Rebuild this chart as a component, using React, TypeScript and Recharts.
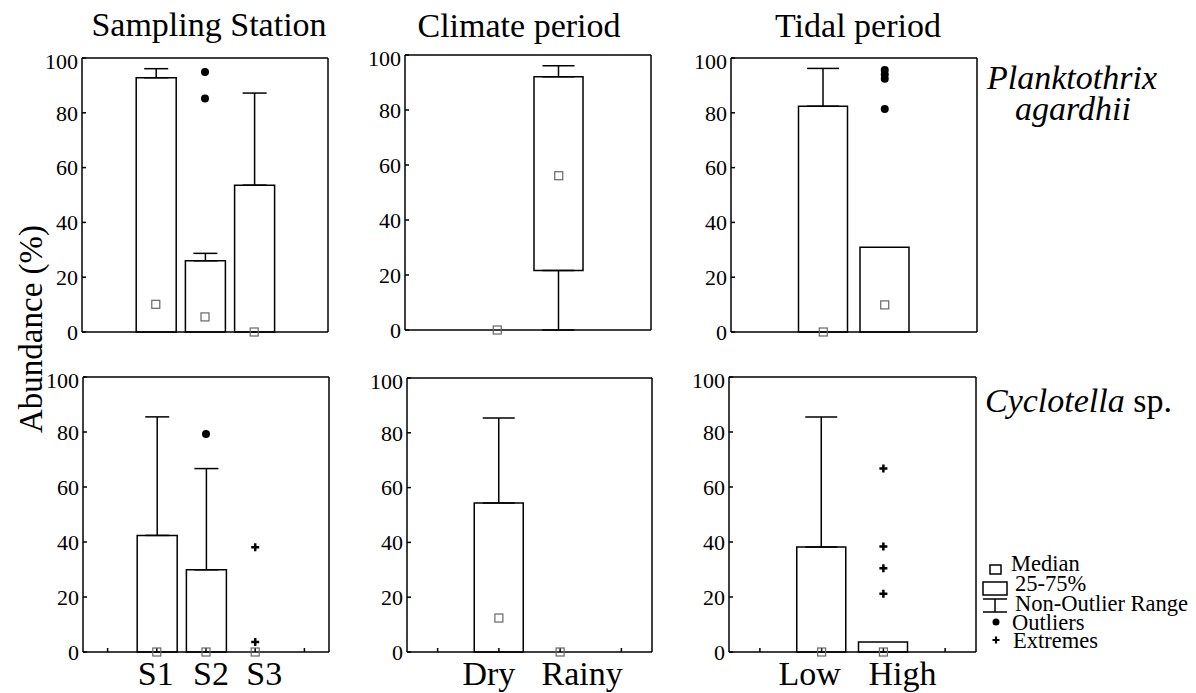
import React from 'react'
import { ComposedChart, Bar, Scatter, XAxis, YAxis, ErrorBar } from 'recharts'

const FONT = "'Liberation Serif', 'Times New Roman', serif"

const stationCats = ['S1', 'S2', 'S3']
const climateCats = ['Dry', 'Rainy']
const tidalCats = ['Low', 'High']
const yTicks = [0, 20, 40, 60, 80, 100]

// Planktothrix agardhii
const plankStationQ1 = [0, 0, 0]
const plankStationQ3 = [92.8, 26.0, 53.6]
const plankStationLow = [0, 0, 0]
const plankStationHigh = [96.1, 28.7, 87.2]
const plankStationMedian = [10.1, 5.5, 0]
const plankStationOutliers = [[], [94.9, 85.2], []]
const plankStationExtremes = [[], [], []]

const plankClimateQ1 = [0, 21.6]
const plankClimateQ3 = [0, 92.1]
const plankClimateLow = [0, 0]
const plankClimateHigh = [0, 96.1]
const plankClimateMedian = [0, 56.1]
const plankClimateOutliers = [[], []]
const plankClimateExtremes = [[], []]

const plankTidalQ1 = [0, 0]
const plankTidalQ3 = [82.4, 30.9]
const plankTidalLow = [0, 0]
const plankTidalHigh = [96.2, 30.9]
const plankTidalMedian = [0, 9.9]
const plankTidalOutliers = [[], [95.6, 94.0, 92.4, 81.4]]
const plankTidalExtremes = [[], []]

// Cyclotella sp.
const cycloStationQ1 = [0, 0, 0]
const cycloStationQ3 = [42.4, 29.9, 0]
const cycloStationLow = [0, 0, 0]
const cycloStationHigh = [85.5, 66.7, 0]
const cycloStationMedian = [0, 0, 0]
const cycloStationOutliers = [[], [79.3], []]
const cycloStationExtremes = [[], [], [38.1, 3.6]]

const cycloClimateQ1 = [0, 0]
const cycloClimateQ3 = [54.4, 0]
const cycloClimateLow = [0, 0]
const cycloClimateHigh = [85.4, 0]
const cycloClimateMedian = [12.4, 0]
const cycloClimateOutliers = [[], []]
const cycloClimateExtremes = [[], []]

const cycloTidalQ1 = [0, 0]
const cycloTidalQ3 = [38.2, 3.6]
const cycloTidalLow = [0, 0]
const cycloTidalHigh = [85.5, 3.6]
const cycloTidalMedian = [0, 0]
const cycloTidalOutliers = [[], []]
const cycloTidalExtremes = [[], [66.7, 38.4, 30.5, 21.2]]

// the category labels in the original sit a bit wider apart than the boxes
const labelShift: Record<string, number> = { S1: -1, S2: 5, S3: 9, Dry: -10, Rainy: 22, Low: -12, High: 19 }

interface BoxStats {
  cats: string[]
  q1: number[]
  q3: number[]
  low: number[]
  high: number[]
  median: number[]
  outliers: number[][]
  extremes: number[][]
}

// one empty slot on each side, like the original plot
const buildRows = (s: BoxStats) => {
  const rows: Record<string, any>[] = [{ cat: '' }]
  s.cats.forEach((cat, i) => {
    const row: Record<string, any> = {
      cat,
      base: s.q1[i],
      box: s.q3[i] - s.q1[i],
      median: s.median[i],
      lowErr: s.q1[i] > s.low[i] ? [s.q1[i] - s.low[i], 0] : undefined,
      highErr: s.high[i] > s.q3[i] ? [0, s.high[i] - s.q3[i]] : undefined,
    }
    s.outliers[i].forEach((v, k) => (row[`o${k}`] = v))
    s.extremes[i].forEach((v, k) => (row[`e${k}`] = v))
    rows.push(row)
  })
  rows.push({ cat: ' ' })
  return rows
}

const ok = (p: any) => Number.isFinite(p.cx) && Number.isFinite(p.cy)

const MedianShape = (p: any) =>
  ok(p) ? (
    <rect x={p.cx - 4} y={p.cy - 4} width={8} height={8} fill="none" stroke="#666" strokeWidth={1.2} />
  ) : (
    <g />
  )

const OutlierShape = (p: any) => (ok(p) ? <circle cx={p.cx} cy={p.cy} r={4} fill="#000" /> : <g />)

const ExtremeShape = (p: any) =>
  ok(p) ? (
    <path
      d={`M${p.cx - 4},${p.cy}H${p.cx + 4}M${p.cx},${p.cy - 4}V${p.cy + 4}`}
      stroke="#000"
      strokeWidth={2.5}
    />
  ) : (
    <g />
  )

const CatTick = (props: any) => {
  const { x, y, payload } = props
  return (
    <text
      x={x + (labelShift[payload.value] ?? 0)}
      y={y}
      dy="0.71em"
      textAnchor="middle"
      fontSize={34}
      fontFamily={FONT}
      fill="#000"
    >
      {payload.value}
    </text>
  )
}

interface PanelProps {
  stats: BoxStats
  left: number
  top: number
  width: number
  height: number
  barSize: number
  capWidth: number
  showLabels: boolean
}

const BoxPanel = ({ stats, left, top, width, height, barSize, capWidth, showLabels }: PanelProps) => {
  const rows = buildRows(stats)
  const nOut = Math.max(0, ...stats.outliers.map((o) => o.length))
  const nExt = Math.max(0, ...stats.extremes.map((e) => e.length))
  return (
    <div style={{ position: 'absolute', left: left - 70, top: top - 10 }}>
      <ComposedChart
        width={width + 80}
        height={height + 60}
        data={rows}
        margin={{ top: 9, right: 9, bottom: 0, left: 0 }}
        barSize={barSize}
      >
        <XAxis
          dataKey="cat"
          interval={0}
          height={50}
          stroke="#000"
          strokeWidth={1.5}
          tickSize={-4}
          tickMargin={13}
          tick={showLabels ? <CatTick /> : false}
        />
        {/* top and right axes only close the frame and carry the inner ticks */}
        <XAxis
          xAxisId="top"
          orientation="top"
          dataKey="cat"
          interval={0}
          height={1}
          stroke="#000"
          strokeWidth={1.5}
          tickSize={-4}
          tick={false}
        />
        <YAxis
          type="number"
          domain={[0, 100]}
          ticks={yTicks}
          width={70}
          stroke="#000"
          strokeWidth={1.5}
          tickSize={-4}
          tickMargin={8}
          tick={{ fontSize: 22, fontFamily: FONT, fill: '#000' }}
        />
        <YAxis
          yAxisId="right"
          orientation="right"
          type="number"
          domain={[0, 100]}
          ticks={yTicks}
          width={1}
          stroke="#000"
          strokeWidth={1.5}
          tickSize={-4}
          tick={false}
        />
        <Bar dataKey="base" stackId="a" fill="none" stroke="none" isAnimationActive={false}>
          <ErrorBar dataKey="lowErr" width={capWidth} stroke="#000" strokeWidth={1.5} direction="y" />
        </Bar>
        <Bar dataKey="box" stackId="a" fill="#fff" stroke="#000" strokeWidth={1.5} isAnimationActive={false}>
          <ErrorBar dataKey="highErr" width={capWidth} stroke="#000" strokeWidth={1.5} direction="y" />
        </Bar>
        <Scatter dataKey="median" shape={MedianShape} isAnimationActive={false} />
        {Array.from({ length: nOut }, (_, k) => (
          <Scatter key={`o${k}`} dataKey={`o${k}`} shape={OutlierShape} isAnimationActive={false} />
        ))}
        {Array.from({ length: nExt }, (_, k) => (
          <Scatter key={`e${k}`} dataKey={`e${k}`} shape={ExtremeShape} isAnimationActive={false} />
        ))}
      </ComposedChart>
    </div>
  )
}

const plankStation: BoxStats = {
  cats: stationCats, q1: plankStationQ1, q3: plankStationQ3, low: plankStationLow, high: plankStationHigh,
  median: plankStationMedian, outliers: plankStationOutliers, extremes: plankStationExtremes,
}
const plankClimate: BoxStats = {
  cats: climateCats, q1: plankClimateQ1, q3: plankClimateQ3, low: plankClimateLow, high: plankClimateHigh,
  median: plankClimateMedian, outliers: plankClimateOutliers, extremes: plankClimateExtremes,
}
const plankTidal: BoxStats = {
  cats: tidalCats, q1: plankTidalQ1, q3: plankTidalQ3, low: plankTidalLow, high: plankTidalHigh,
  median: plankTidalMedian, outliers: plankTidalOutliers, extremes: plankTidalExtremes,
}
const cycloStation: BoxStats = {
  cats: stationCats, q1: cycloStationQ1, q3: cycloStationQ3, low: cycloStationLow, high: cycloStationHigh,
  median: cycloStationMedian, outliers: cycloStationOutliers, extremes: cycloStationExtremes,
}
const cycloClimate: BoxStats = {
  cats: climateCats, q1: cycloClimateQ1, q3: cycloClimateQ3, low: cycloClimateLow, high: cycloClimateHigh,
  median: cycloClimateMedian, outliers: cycloClimateOutliers, extremes: cycloClimateExtremes,
}
const cycloTidal: BoxStats = {
  cats: tidalCats, q1: cycloTidalQ1, q3: cycloTidalQ3, low: cycloTidalLow, high: cycloTidalHigh,
  median: cycloTidalMedian, outliers: cycloTidalOutliers, extremes: cycloTidalExtremes,
}

export default function App() {
  return (
    <div
      style={{
        position: 'absolute',
        left: 0,
        top: 0,
        width: 1196,
        height: 693,
        background: '#fff',
        fontFamily: FONT,
        overflow: 'hidden',
      }}
    >
      <svg width={1196} height={693} style={{ position: 'absolute', left: 0, top: 0 }} fontFamily={FONT} fill="#000">
        <text x={209} y={36} textAnchor="middle" fontSize={34}>Sampling Station</text>
        <text x={519} y={37} textAnchor="middle" fontSize={34}>Climate period</text>
        <text x={858} y={37} textAnchor="middle" fontSize={34}>Tidal period</text>
        <text transform="translate(42,329) rotate(-90)" textAnchor="middle" fontSize={33}>Abundance (%)</text>
        <text x={1072} y={89} textAnchor="middle" fontSize={34} fontStyle="italic">Planktothrix</text>
        <text x={1073} y={120} textAnchor="middle" fontSize={34} fontStyle="italic">agardhii</text>
        <text x={985} y={412} fontSize={34}>
          <tspan fontStyle="italic">Cyclotella</tspan> sp.
        </text>

        {/* legend */}
        <rect x={990} y={565} width={11} height={9} fill="none" stroke="#000" strokeWidth={1.5} />
        <text x={1011} y={571} fontSize={22.5}>Median</text>
        <rect x={983} y={582} width={24} height={13} fill="none" stroke="#000" strokeWidth={1.5} />
        <text x={1015} y={591} fontSize={22.5}>25-75%</text>
        <path d="M983,599H1007M995,599V612M983,612H1007" stroke="#000" strokeWidth={1.5} fill="none" />
        <text x={1015} y={611} fontSize={22.5}>Non-Outlier Range</text>
        <circle cx={996} cy={622} r={3.5} fill="#000" />
        <text x={1012} y={630} fontSize={22.5}>Outliers</text>
        <path d="M992.5,640H999.5M996,636.5V643.5" stroke="#000" strokeWidth={2.2} />
        <text x={1013} y={648} fontSize={22.5}>Extremes</text>
      </svg>

      <BoxPanel stats={plankStation} left={82} top={58} width={246} height={274} barSize={40} capWidth={12} showLabels={false} />
      <BoxPanel stats={plankClimate} left={405} top={55} width={246} height={275} barSize={49} capWidth={16} showLabels={false} />
      <BoxPanel stats={plankTidal} left={731} top={58} width={246} height={274} barSize={49} capWidth={16} showLabels={false} />
      <BoxPanel stats={cycloStation} left={83} top={377} width={246} height={275} barSize={40} capWidth={12} showLabels />
      <BoxPanel stats={cycloClimate} left={407} top={378} width={245} height={274} barSize={49} capWidth={16} showLabels />
      <BoxPanel stats={cycloTidal} left={729} top={377} width={247} height={275} barSize={49} capWidth={16} showLabels />
    </div>
  )
}
